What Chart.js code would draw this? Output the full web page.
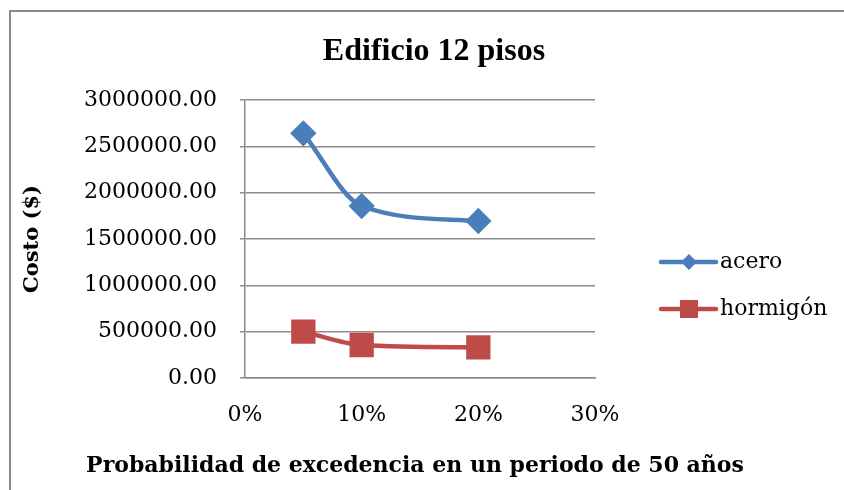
<!DOCTYPE html>
<html>
<head>
<meta charset="utf-8">
<script src="https://cdn.jsdelivr.net/npm/chart.js@4.4.0/dist/chart.umd.min.js"></script>
<style>
  body { margin: 0; background: #fff; }
  canvas { display: block; }
</style>
</head>
<body>
<canvas id="costChart" width="844" height="490"></canvas>
<script>
// probability of exceedance (fraction) and cost per structural system
const probabilities = [0.05, 0.10, 0.20];
const aceroCost = [2640000, 1856000, 1694000];
const hormigonCost = [500000, 356000, 331000];
const seriesNames = ['acero', 'hormigón'];
const seriesColors = ['#4a7ebb', '#be4b48'];
const xTickLabels = ['0%', '10%', '20%', '30%'];
const yMax = 3000000;
const yStep = 500000;

const tickFont = { family: 'DejaVu Serif', size: 22, lineHeight: 1.2 };
const gridGray = '#8c8c8c';

function toPoints(values) {
    return values.map((v, i) => ({ x: probabilities[i], y: v }));
}

// title, frame, x axis title and legend (line sample + marker) drawn by hand
const decorations = {
    id: 'decorations',
    beforeDraw(chart) {
        const ctx = chart.ctx;
        ctx.save();
        ctx.strokeStyle = '#8a8a8a';
        ctx.lineWidth = 2;
        ctx.beginPath();
        ctx.moveTo(10, chart.height);
        ctx.lineTo(10, 11);
        ctx.lineTo(chart.width, 11);
        ctx.stroke();
        ctx.restore();
    },
    afterDraw(chart) {
        const ctx = chart.ctx;
        const area = chart.chartArea;
        ctx.save();
        ctx.fillStyle = '#000';
        ctx.textAlign = 'center';
        ctx.textBaseline = 'middle';
        ctx.font = 'bold 32px "Liberation Serif"';
        ctx.fillText('Edificio 12 pisos', 434, 52);
        ctx.font = 'bold 22px "DejaVu Serif"';
        ctx.fillText('Probabilidad de excedencia en un periodo de 50 años', 415, 466);

        const lx = area.right + 66;
        const midY = (area.top + area.bottom) / 2;
        const rowY = [midY + 23, midY + 70];
        chart.data.datasets.forEach((ds, i) => {
            const y = rowY[i];
            const cx = lx + 28;
            ctx.strokeStyle = ds.borderColor;
            ctx.lineWidth = 4.5;
            ctx.lineCap = 'round';
            ctx.beginPath();
            ctx.moveTo(lx, y);
            ctx.lineTo(lx + 55, y);
            ctx.stroke();
            ctx.fillStyle = ds.backgroundColor;
            ctx.beginPath();
            if (ds.pointStyle === 'rectRot') {
                const r = 8;
                ctx.moveTo(cx, y - r);
                ctx.lineTo(cx + r, y);
                ctx.lineTo(cx, y + r);
                ctx.lineTo(cx - r, y);
                ctx.closePath();
            } else {
                ctx.rect(cx - 9, y - 9, 18, 18);
            }
            ctx.fill();
            ctx.fillStyle = '#000';
            ctx.textAlign = 'left';
            ctx.font = '22px "DejaVu Serif"';
            ctx.fillText(ds.label, lx + 59, y);
        });
        ctx.restore();
    }
};

new Chart(document.getElementById('costChart').getContext('2d'), {
    type: 'scatter',
    data: {
        datasets: [{
            label: seriesNames[0],
            data: toPoints(aceroCost),
            borderColor: seriesColors[0],
            backgroundColor: seriesColors[0],
            borderWidth: 4.5,
            showLine: true,
            cubicInterpolationMode: 'monotone',
            pointStyle: 'rectRot',
            pointRadius: 10,
            pointHoverRadius: 10
        }, {
            label: seriesNames[1],
            data: toPoints(hormigonCost),
            borderColor: seriesColors[1],
            backgroundColor: seriesColors[1],
            borderWidth: 4.5,
            showLine: true,
            cubicInterpolationMode: 'monotone',
            pointStyle: 'rect',
            pointRadius: 14,
            pointHoverRadius: 14
        }]
    },
    options: {
        responsive: false,
        animation: false,
        layout: { padding: { left: 22, top: 100, right: 249, bottom: 0 } },
        plugins: {
            legend: { display: false },
            title: { display: false },
            tooltip: { enabled: false }
        },
        scales: {
            x: {
                type: 'linear',
                min: 0,
                max: 0.3,
                afterFit(scale) { scale.height = 112; },
                afterBuildTicks(scale) {
                    scale.ticks = xTickLabels.map((t, i) => ({ value: i / 10 }));
                },
                ticks: {
                    font: tickFont,
                    color: '#000',
                    padding: 24,
                    maxRotation: 0,
                    callback: (v) => xTickLabels[Math.round(v * 10)]
                },
                grid: { display: false, drawTicks: false },
                border: { display: true, color: gridGray, width: 1.5 }
            },
            y: {
                min: 0,
                max: yMax,
                afterFit(scale) { scale.width = 223; },
                ticks: {
                    stepSize: yStep,
                    font: tickFont,
                    color: '#000',
                    padding: 23,
                    callback: (v) => v.toFixed(2)
                },
                grid: { color: gridGray, lineWidth: 1.5, tickLength: 5, drawTicks: true },
                border: { display: true, color: gridGray, width: 1.5 },
                title: {
                    display: true,
                    text: 'Costo ($)',
                    font: { family: 'DejaVu Serif', size: 21, weight: 'bold', lineHeight: 1 },
                    color: '#000',
                    padding: 0
                }
            }
        }
    },
    plugins: [decorations]
});
</script>
</body>
</html>
